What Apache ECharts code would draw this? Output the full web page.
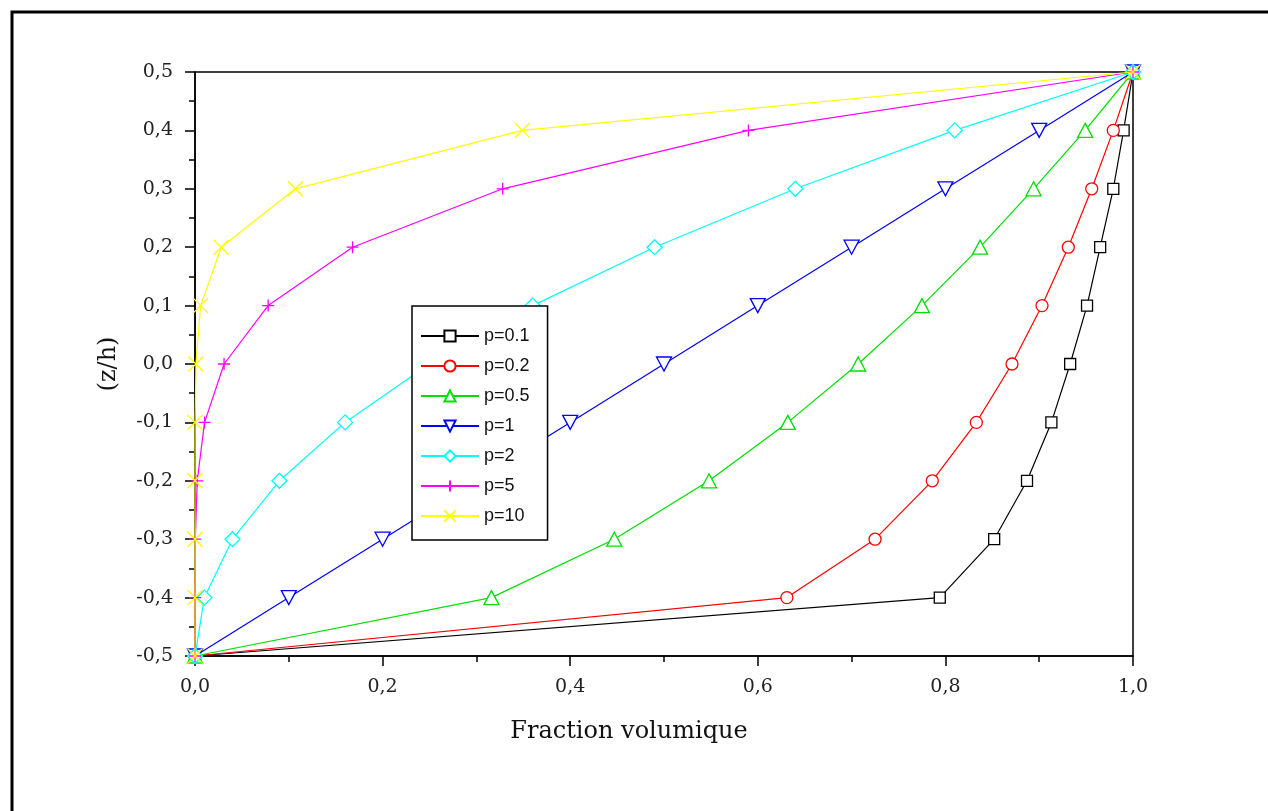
<!DOCTYPE html>
<html>
<head>
<meta charset="utf-8">
<script src="https://cdn.jsdelivr.net/npm/echarts@6/dist/echarts.min.js"></script>
<style>
html,body{margin:0;padding:0;background:#fff;}
#chart{width:1268px;height:811px;}
</style>
</head>
<body>
<div id="chart"></div>
<script>
// z/h positions (y values)
const zValues = [-0.5, -0.4, -0.3, -0.2, -0.1, 0.0, 0.1, 0.2, 0.3, 0.4, 0.5];
// Volume fraction, one array per exponent p (z/h = -0.5 .. 0.5)
const vP01 = [0, 0.794, 0.852, 0.887, 0.913, 0.933, 0.951, 0.965, 0.979, 0.990, 1];
const vP02 = [0, 0.631, 0.725, 0.786, 0.833, 0.871, 0.903, 0.931, 0.956, 0.979, 1];
const vP05 = [0, 0.316, 0.447, 0.548, 0.632, 0.707, 0.775, 0.837, 0.894, 0.949, 1];
const vP1  = [0, 0.1, 0.2, 0.3, 0.4, 0.5, 0.6, 0.7, 0.8, 0.9, 1];
const vP2  = [0, 0.01, 0.04, 0.09, 0.16, 0.25, 0.36, 0.49, 0.64, 0.81, 1];
const vP5  = [0, 0.00001, 0.0003, 0.0024, 0.0102, 0.031, 0.078, 0.168, 0.328, 0.590, 1];
const vP10 = [0, 0, 0, 0, 0.0001, 0.001, 0.006, 0.028, 0.107, 0.349, 1];
const seriesNames = ['p=0.1', 'p=0.2', 'p=0.5', 'p=1', 'p=2', 'p=5', 'p=10'];
const xTicks = ['0,0', '0,2', '0,4', '0,6', '0,8', '1,0'];

const allValues = [vP01, vP02, vP05, vP1, vP2, vP5, vP10];
const colors = ['#000000', '#ff0000', '#00e000', '#0000ff', '#00ffff', '#ff00ff', '#ffff00'];
const symbols = [
  'rect',
  'circle',
  'triangle',
  'triangle',
  'diamond',
  'path://M5,0L5,10M0,5L10,5',
  'path://M0,0L10,10M10,0L0,10'
];
const symbolSizes = [11, 12, [15, 14], [15, 14], [15, 15], 12, 15];
const symbolRot = [0, 0, 0, 180, 0, 0, 0];

const series = allValues.map((vals, i) => ({
  name: seriesNames[i],
  type: 'line',
  data: vals.map((v, k) => [v, zValues[k]]),
  symbol: symbols[i],
  symbolSize: symbolSizes[i],
  symbolRotate: symbolRot[i],
  symbolKeepAspect: false,
  showAllSymbol: true,
  clip: false,
  lineStyle: { color: colors[i], width: 1.2 },
  itemStyle: { color: '#ffffff', borderColor: colors[i], borderWidth: 1.3 },
  emphasis: { disabled: true },
  z: 2 + i
}));

const fmt = v => v.toFixed(1).replace('.', ',');

const chart = echarts.init(document.getElementById('chart'));
chart.setOption({
  animation: false,
  backgroundColor: '#ffffff',
  graphic: [{
    type: 'rect',
    left: 9.5, top: 9.5,
    shape: { x: 0, y: 0, width: 1300, height: 900 },
    style: { fill: 'none', stroke: '#000', lineWidth: 3 },
    z: -1
  }],
  grid: {
    left: 195, right: 135, top: 72, bottom: 155,
    show: true, borderColor: '#000', borderWidth: 1.5, backgroundColor: 'transparent'
  },
  legend: {
    orient: 'vertical',
    left: 412, top: 306,
    z: 50,
    itemWidth: 58, itemHeight: 14, itemGap: 12,
    padding: [21, 18, 15, 8],
    borderColor: '#000', borderWidth: 1.5,
    backgroundColor: '#fff',
    textStyle: { fontFamily: 'Liberation Sans', fontSize: 18, color: '#111' },
    data: seriesNames
  },
  xAxis: {
    type: 'value', min: 0, max: 1, interval: 0.2,
    name: 'Fraction volumique', nameLocation: 'middle', nameGap: 64,
    nameTextStyle: { fontFamily: 'DejaVu Serif', fontSize: 24, color: '#111', padding: [0, 70, 0, 0] },
    axisLine: { onZero: false, lineStyle: { color: '#000', width: 1.5 } },
    axisTick: { show: true, inside: false, length: 10, lineStyle: { color: '#000', width: 1.5 } },
    minorTick: { show: true, splitNumber: 2, length: 6, lineStyle: { color: '#000', width: 1.5 } },
    splitLine: { show: false },
    axisLabel: {
      margin: 22, fontFamily: 'DejaVu Serif', fontSize: 19, color: '#222',
      formatter: v => xTicks[Math.round(v / 0.2)]
    }
  },
  yAxis: {
    type: 'value', min: -0.5, max: 0.5, interval: 0.1,
    name: '(z/h)', nameLocation: 'middle', nameGap: 74,
    nameTextStyle: { fontFamily: 'DejaVu Serif', fontSize: 24, color: '#111' },
    axisLine: { onZero: false, lineStyle: { color: '#000', width: 1.5 } },
    axisTick: { show: true, inside: false, length: 10, lineStyle: { color: '#000', width: 1.5 } },
    minorTick: { show: true, splitNumber: 2, length: 6, lineStyle: { color: '#000', width: 1.5 } },
    splitLine: { show: false },
    axisLabel: {
      margin: 22, fontFamily: 'DejaVu Serif', fontSize: 19, color: '#222',
      formatter: v => fmt(v)
    }
  },
  series: series
});
</script>
</body>
</html>
